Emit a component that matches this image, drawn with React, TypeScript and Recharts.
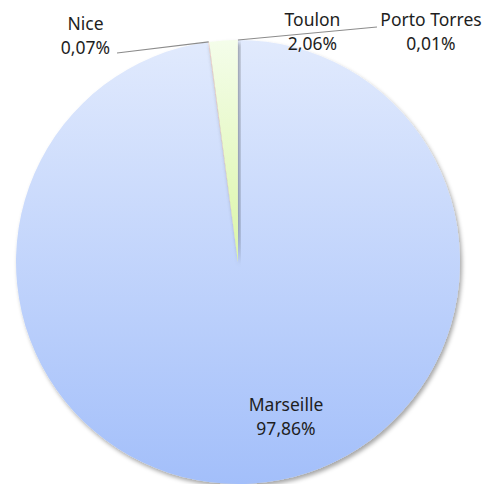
import React from "react";
import { PieChart, Pie, Cell } from "recharts";

const cities = ["Marseille", "Nice", "Toulon", "Porto Torres"];
const shares = [97.86, 0.07, 2.06, 0.01];

const data = cities.map((name, i) => ({ name, value: shares[i] }));

const fills = ["url(#gMarseille)", "url(#gNice)", "url(#gToulon)", "url(#gPorto)"];

// label placement relative to the pie centre (text centre x, first baseline y, optional leader end)
const labelLayout: Record<string, { dx: number; dy: number; line?: [number, number] }> = {
  Marseille: { dx: 48, dy: 149 },
  Nice: { dx: -152.5, dy: -232, line: [-121, -209] },
  Toulon: { dx: 74.5, dy: -236 },
  "Porto Torres": { dx: 193, dy: -236, line: [139, -235] },
};

const RAD = Math.PI / 180;
const fmt = (v: number) => v.toFixed(2).replace(".", ",") + "%";

const renderLabel = (props: any) => {
  const { cx, cy, midAngle, outerRadius, name, value } = props;
  const lay = labelLayout[name];
  if (!lay) return null;
  const ex = cx + outerRadius * Math.cos(-midAngle * RAD);
  const ey = cy + outerRadius * Math.sin(-midAngle * RAD);
  const tx = cx + lay.dx;
  const ty = cy + lay.dy;
  return (
    <g>
      {lay.line && (
        <line
          x1={ex}
          y1={ey}
          x2={cx + lay.line[0]}
          y2={cy + lay.line[1]}
          stroke="#8c8c8c"
          strokeWidth={1.2}
        />
      )}
      <text
        x={tx}
        y={ty}
        textAnchor="middle"
        fill="#1e1e1e"
        fontFamily="'Noto Sans', sans-serif"
        fontSize={17.5}
      >
        <tspan x={tx} y={ty}>{name}</tspan>
        <tspan x={tx} y={ty + 24}>{fmt(value)}</tspan>
      </text>
    </g>
  );
};

export default function App() {
  return (
    <div style={{ position: "absolute", left: 0, top: 0, width: 488, height: 484 }}>
      <PieChart width={488} height={484} margin={{ top: 0, right: 0, bottom: 0, left: 0 }}>
        <defs>
          <linearGradient id="gMarseille" gradientUnits="userSpaceOnUse" x1="0" y1="40" x2="0" y2="484">
            <stop offset="0%" stopColor="#e1eafd" />
            <stop offset="100%" stopColor="#a3bffa" />
          </linearGradient>
          <linearGradient id="gToulon" gradientUnits="userSpaceOnUse" x1="0" y1="40" x2="0" y2="484">
            <stop offset="0%" stopColor="#f4fdea" />
            <stop offset="100%" stopColor="#c2ee66" />
          </linearGradient>
          <linearGradient id="gNice" gradientUnits="userSpaceOnUse" x1="0" y1="40" x2="0" y2="484">
            <stop offset="0%" stopColor="#f8dcd6" />
            <stop offset="100%" stopColor="#eaa090" />
          </linearGradient>
          <linearGradient id="gPorto" gradientUnits="userSpaceOnUse" x1="0" y1="40" x2="0" y2="484">
            <stop offset="0%" stopColor="#e4dcf0" />
            <stop offset="100%" stopColor="#b8a8d8" />
          </linearGradient>
          <filter id="pieShadow" x="-10%" y="-10%" width="120%" height="120%">
            <feDropShadow dx="2" dy="3" stdDeviation="2" floodColor="#000" floodOpacity="0.35" />
          </filter>
        </defs>
        <Pie
          data={data}
          dataKey="value"
          nameKey="name"
          cx={238}
          cy={262}
          outerRadius={222}
          startAngle={90}
          endAngle={-270}
          stroke="none"
          label={renderLabel}
          labelLine={false}
          isAnimationActive={false}
          style={{ filter: "url(#pieShadow)" }}
        >
          {data.map((d, i) => (
            <Cell key={d.name} fill={fills[i]} />
          ))}
        </Pie>
      </PieChart>
    </div>
  );
}
